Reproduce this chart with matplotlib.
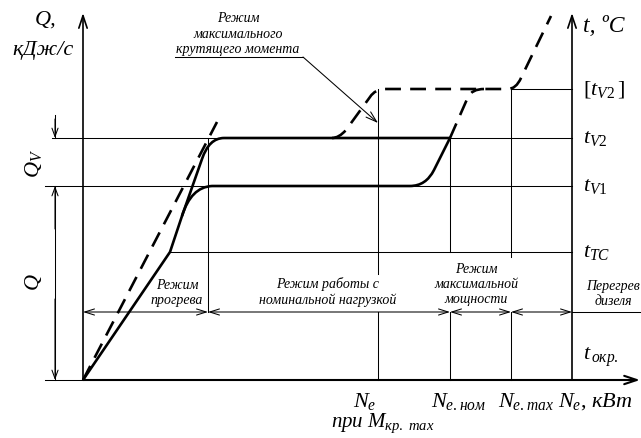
import matplotlib
matplotlib.use('Agg')
import matplotlib.pyplot as plt
from matplotlib.path import Path
from matplotlib.patches import PathPatch

plt.rcParams['font.family'] = ['Liberation Serif', 'DejaVu Serif']
plt.rcParams['mathtext.fontset'] = 'custom'
plt.rcParams['mathtext.it'] = 'Liberation Serif:italic'
plt.rcParams['mathtext.rm'] = 'Liberation Serif'

# scheme coordinates (drawing units, y grows downward)
x0 = 83                      # origin
x_warm = 208                 # end of warm-up
x_mmax = 378                 # N_e at M_kp max
x_nom = 450                  # N_e nom
x_max = 511                  # N_e max
x_right = 572                # right axis (t)
y_okr = 381
y_tc = 253
y_v1 = 187
y_v2 = 139
y_v2lim = 90

# curves: (x, y, code)  M=moveto L=lineto C=quadratic control/end
solid_low = [(83, 381, 'M'), (170, 253, 'L'), (182, 217, 'L'),
             (191, 188, 'C'), (212, 187, 'C'), (410, 187, 'L'),
             (426, 187, 'C'), (434, 171, 'C'), (450, 139, 'L')]
solid_up = [(182, 217, 'M'), (202, 160, 'L'), (209, 139, 'C'),
            (224, 139, 'C'), (450, 139, 'L')]
dash_warm = [(83, 381, 'M'), (217, 123, 'L')]
dash_mmax = [(332, 139, 'M'), (339, 139, 'C'), (346, 131, 'C'),
             (370, 98, 'L'), (375, 90, 'C'), (386, 90, 'C'),
             (508, 90, 'L'), (516, 90, 'C'), (521, 79, 'C'),
             (551, 17, 'L')]
dash_nom = [(450, 139, 'M'), (468, 98, 'L'), (472, 90, 'C'), (484, 90, 'C')]

levels_lbl = [r'$[t_{\mathit{V2}}\,]$', r'$t_{\mathit{V2}}$', r'$t_{\mathit{V1}}$',
              r'$t_{\mathit{TC}}$', r'$t_{\,окр.}$']
levels_y = [y_v2lim, y_v2, y_v1, y_tc, 357]

regions = ['Режим\nпрогрева', 'Режим работы с\nноминальной нагрузкой',
           'Режим\nмаксимальной\nмощности', 'Перегрев\nдизеля']
regions_xy = [(177, 293), (328, 292), (476, 285), (613, 294)]
bounds = [x0, x_warm, x_nom, x_max, x_right]
y_arrow = 313

# vertical guides: x, top, gap start, gap end (break around region labels)
guides = [(x_mmax, y_v2lim, 275), (x_nom, y_v2, y_tc), (x_max, y_v2lim, 258)]

W, H = 641, 439
fig = plt.figure(figsize=(W / 100, H / 100), dpi=100)
ax = fig.add_axes([0, 0, 1, 1])
ax.set_xlim(0, W)
ax.set_ylim(H, 0)
ax.axis('off')

thin = 0.75
codes = {'M': Path.MOVETO, 'L': Path.LINETO, 'C': Path.CURVE3}


def curve(pts, ls='-'):
    p = Path([(a, b) for a, b, c in pts], [codes[c] for a, b, c in pts])
    ax.add_patch(PathPatch(p, fill=False, lw=1.9, ls=ls, color='black',
                           capstyle='butt', joinstyle='round'))


def arrow(x1, y1, x2, y2, lw=thin, hl=0.6, hw=0.25, style='->'):
    ax.annotate('', xy=(x2, y2), xytext=(x1, y1),
                arrowprops=dict(arrowstyle=f'{style},head_length={hl},head_width={hw}',
                                lw=lw, color='black', shrinkA=0, shrinkB=0))


# thin guide lines
ax.plot([52, x_right], [y_v2, y_v2], color='black', lw=thin)
ax.plot([45, x_right], [y_v1, y_v1], color='black', lw=thin)
ax.plot([170, x_right], [y_tc, y_tc], color='black', lw=thin)
ax.plot([x_max, x_right], [y_v2lim, y_v2lim], color='black', lw=thin)
ax.plot([45, x0], [y_okr, y_okr], color='black', lw=thin)
ax.plot([x_warm, x_warm], [y_v2, y_arrow], color='black', lw=thin)
for x, top, gap in guides:
    ax.plot([x, x], [top, gap], color='black', lw=thin)
    ax.plot([x, x], [y_arrow, y_okr], color='black', lw=thin)
ax.plot([x_right, W], [y_arrow, y_arrow], color='black', lw=thin)

# axes
arrow(x0, y_okr, x0, 14, lw=1.2, hl=0.9, hw=0.3)
arrow(x_right, y_okr, x_right, 14, lw=1.2, hl=0.9, hw=0.3)
arrow(x0, y_okr, W - 1, y_okr, lw=1.5, hl=0.9, hw=0.3)

# dimension Q_V and Q
ax.plot([55, 55], [116, y_v2], color='black', lw=thin)
arrow(55, 120, 55, y_v2, hl=0.6, hw=0.22)
arrow(55, 230, 55, y_v1, hl=0.6, hw=0.22)
arrow(55, 300, 55, y_okr, hl=0.6, hw=0.22)
ax.plot([55, 55], [y_v1, y_okr], color='black', lw=thin)

# region arrows
for a, b in zip(bounds[:-1], bounds[1:]):
    arrow(a, y_arrow, b, y_arrow, style='<->', hl=0.7, hw=0.22)

# curves
curve(solid_low)
curve(solid_up)
curve(dash_warm, ls=(0, (6, 3.5)))
curve(dash_mmax, ls=(0, (6, 3.5)))
curve(dash_nom, ls=(0, (6, 3.5)))

# annotation
ax.text(238, 34, 'Режим\nмаксимального\nкрутящего момента', ha='center', va='center',
        fontsize=10, style='italic', linespacing=1.25)
ax.plot([175, 303], [58, 58], color='black', lw=thin)
arrow(303, 58, x_mmax, 124, hl=0.8, hw=0.25)

# region labels
for s, (x, y) in zip(regions, regions_xy):
    ax.text(x, y, s, ha='center', va='center', fontsize=10, style='italic',
            linespacing=1.2)

# axis titles
ax.text(46, 20, 'Q,', ha='center', va='center', fontsize=16, style='italic')
ax.text(43, 50, 'кДж/с', ha='center', va='center', fontsize=16, style='italic')
ax.text(583, 26, 't, ºC', ha='left', va='center', fontsize=17, style='italic')
ax.text(34, 163, r'$Q_{V}$', ha='center', va='center', fontsize=16, rotation=90)
ax.text(34, 282, r'$Q$', ha='center', va='center', fontsize=16, rotation=90)

for s, y in zip(levels_lbl, levels_y):
    ax.text(583, y, s, ha='left', va='center', fontsize=16)

ax.text(365, 402, r'$N_{e}$', ha='center', va='center', fontsize=16)
ax.text(383, 423, r'$при\ M_{кр.\ max}$', ha='center', va='center', fontsize=15)
ax.text(459, 402, r'$N_{е.ном}$', ha='center', va='center', fontsize=16)
ax.text(526, 402, r'$N_{е.max}$', ha='center', va='center', fontsize=16)
ax.text(558, 402, r'$N_{e}$, $кВт$', ha='left', va='center', fontsize=16)

fig.savefig('out.png', dpi=100)
